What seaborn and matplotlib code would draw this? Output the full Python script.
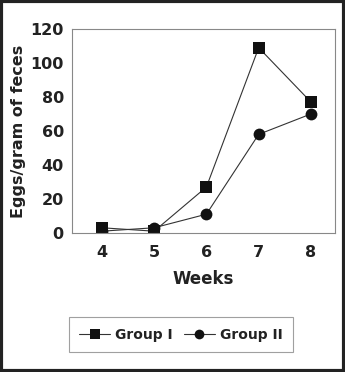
import pandas as pd
import matplotlib.pyplot as plt
import seaborn as sns
from matplotlib.patches import Rectangle

# Data
weeks = [4, 5, 6, 7, 8]
group_1 = [3, 1, 27, 109, 77]
group_2 = [1, 3, 11, 58, 70]
y_ticks = [0, 20, 40, 60, 80, 100, 120]

df = pd.DataFrame({
    'Weeks': weeks * 2,
    'Eggs': group_1 + group_2,
    'Group': ['Group I'] * len(weeks) + ['Group II'] * len(weeks),
})

sns.set_style('white')
plt.rcParams['font.family'] = ['DejaVu Sans']

fig = plt.figure(figsize=(3.45, 3.72), dpi=100)
ax = fig.add_axes([0.209, 0.374, 0.762, 0.548])

sns.lineplot(data=df, x='Weeks', y='Eggs', hue='Group', style='Group',
             markers={'Group I': 's', 'Group II': 'o'}, dashes=False,
             palette={'Group I': '#333333', 'Group II': '#333333'},
             linewidth=0.8, markersize=8.5, markeredgewidth=0,
             markerfacecolor='#111111', ax=ax, legend=False)

ax.set_xlim(3.43, 8.46)
ax.set_ylim(0, 120)
ax.set_yticks(y_ticks)
ax.set_xticks(weeks)
ax.set_xticks([4.5, 5.5, 6.5, 7.5], minor=True)
ax.tick_params(axis='x', which='major', length=0, pad=9, labelsize=11.5)
ax.tick_params(axis='x', which='minor', length=5, width=0.8, color='#777777', direction='out')
ax.tick_params(axis='y', length=4, width=0.8, color='#777777', direction='out', labelsize=11.5, pad=2)
for lab in ax.get_xticklabels() + ax.get_yticklabels():
    lab.set_fontweight('bold')
    lab.set_color('#222222')

for sp in ax.spines.values():
    sp.set_color('#888888')
    sp.set_linewidth(0.8)

ax.set_xlabel('Weeks', fontsize=12, fontweight='bold', color='#222222', labelpad=7)
ax.set_ylabel('Eggs/gram of feces', fontsize=11.5, fontweight='bold', color='#222222', labelpad=3)

handles = [
    plt.Line2D([], [], color='#333333', lw=0.8, marker='s', markersize=7,
               markerfacecolor='#111111', markeredgewidth=0),
    plt.Line2D([], [], color='#333333', lw=0.8, marker='o', markersize=7,
               markerfacecolor='#111111', markeredgewidth=0),
]
leg = fig.legend(handles, ['Group I', 'Group II'], ncol=2, loc='center',
                 bbox_to_anchor=(0.525, 0.1), fancybox=False, edgecolor='#888888',
                 prop={'weight': 'bold', 'size': 10}, handlelength=2.2,
                 columnspacing=0.8, handletextpad=0.4, borderpad=0.75)
leg.get_frame().set_linewidth(0.8)
for t in leg.get_texts():
    t.set_color('#222222')

# dark frame round the whole figure
fig.patches.append(Rectangle((0.004, 0.004), 0.992, 0.992, transform=fig.transFigure,
                             fill=False, edgecolor='#222222', linewidth=3))

fig.savefig('out.png', dpi=100, facecolor='white')
